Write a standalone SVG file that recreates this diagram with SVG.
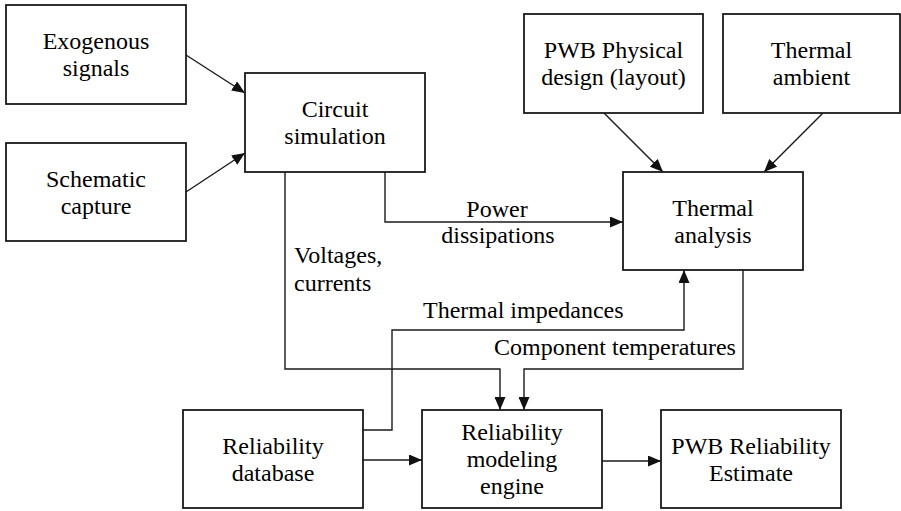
<svg xmlns="http://www.w3.org/2000/svg" width="901" height="511" viewBox="0 0 901 511">
<style>
.box{fill:#fff;stroke:#1a1a1a;stroke-width:1.8}
.ln{fill:none;stroke:#1a1a1a;stroke-width:1.4}
.c{text-anchor:middle}
</style>
<defs>
<marker id="ah" markerUnits="userSpaceOnUse" markerWidth="13" markerHeight="11" refX="13" refY="5.5" orient="auto">
<path d="M0,0 L13,5.5 L0,11 z" fill="#111"/>
</marker>
</defs>
<rect width="901" height="511" fill="#fff"/>
<g id="connectors">
<line class="ln" x1="186" y1="55" x2="245" y2="93" marker-end="url(#ah)"/>
<line class="ln" x1="186" y1="192" x2="245" y2="153" marker-end="url(#ah)"/>
<line class="ln" x1="604" y1="113" x2="663" y2="172" marker-end="url(#ah)"/>
<line class="ln" x1="823" y1="113" x2="764" y2="172" marker-end="url(#ah)"/>
<path class="ln" d="M385,172 V222 H623" marker-end="url(#ah)"/>
<path class="ln" d="M285,172 V369 H500 V410" marker-end="url(#ah)"/>
<path class="ln" d="M743,270 V369 H524 V410" marker-end="url(#ah)"/>
<path class="ln" d="M363,430 H392 V330 H684 V270" marker-end="url(#ah)"/>
<path class="ln" d="M363,460 H422" marker-end="url(#ah)"/>
<path class="ln" d="M602,461 H661" marker-end="url(#ah)"/>
<g font-family="Liberation Serif" font-size="24" fill="#000">
<text class="c" x="497" y="217">Power</text>
<text class="c" x="498" y="243">dissipations</text>
<text x="294" y="263">Voltages,</text>
<text x="294" y="291">currents</text>
<text x="423" y="318">Thermal impedances</text>
<text x="494" y="355">Component temperatures</text>
</g>
</g>
<g id="exogenous" font-family="Liberation Serif" font-size="24">
<rect class="box" x="6" y="5" width="180" height="99"/>
<text class="c" x="96" y="49">Exogenous</text>
<text class="c" x="96" y="76">signals</text>
</g>
<g id="schematic" font-family="Liberation Serif" font-size="24">
<rect class="box" x="6" y="143" width="180" height="98"/>
<text class="c" x="96" y="186.5">Schematic</text>
<text class="c" x="96" y="213.5">capture</text>
</g>
<g id="circuit" font-family="Liberation Serif" font-size="24">
<rect class="box" x="245" y="73" width="180" height="99"/>
<text class="c" x="335" y="117">Circuit</text>
<text class="c" x="335" y="144">simulation</text>
</g>
<g id="pwb-physical" font-family="Liberation Serif" font-size="24">
<rect class="box" x="524" y="14" width="179" height="99"/>
<text class="c" x="613.5" y="58">PWB Physical</text>
<text class="c" x="613.5" y="85">design (layout)</text>
</g>
<g id="thermal-ambient" font-family="Liberation Serif" font-size="24">
<rect class="box" x="723" y="14" width="177" height="99"/>
<text class="c" x="811.5" y="58">Thermal</text>
<text class="c" x="811.5" y="85">ambient</text>
</g>
<g id="thermal-analysis" font-family="Liberation Serif" font-size="24">
<rect class="box" x="623" y="172" width="180" height="98"/>
<text class="c" x="713" y="215.5">Thermal</text>
<text class="c" x="713" y="242.5">analysis</text>
</g>
<g id="database" font-family="Liberation Serif" font-size="24">
<rect class="box" x="183" y="410" width="180" height="98"/>
<text class="c" x="273" y="453.5">Reliability</text>
<text class="c" x="273" y="480.5">database</text>
</g>
<g id="engine" font-family="Liberation Serif" font-size="24">
<rect class="box" x="422" y="410" width="180" height="98"/>
<text class="c" x="512" y="440">Reliability</text>
<text class="c" x="512" y="467">modeling</text>
<text class="c" x="512" y="494">engine</text>
</g>
<g id="estimate" font-family="Liberation Serif" font-size="24">
<rect class="box" x="661" y="410" width="180" height="98"/>
<text class="c" x="751" y="453.5">PWB Reliability</text>
<text class="c" x="751" y="480.5">Estimate</text>
</g>
</svg>
